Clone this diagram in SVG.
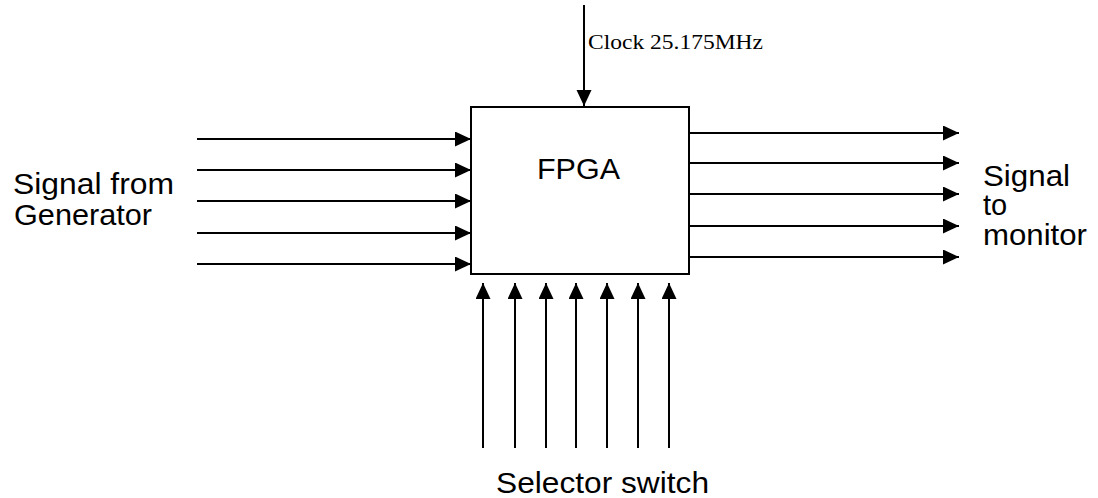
<svg xmlns="http://www.w3.org/2000/svg" width="1098" height="498" viewBox="0 0 1098 498">
  <style>
    .ln { stroke: #000; stroke-width: 2; fill: none; }
    .lbl { font-family: "Liberation Sans", Arial, sans-serif; font-size: 29px; fill: #000; }
    .clk { font-family: "Liberation Serif", "Times New Roman", serif; font-size: 22px; fill: #000; }
  </style>
  <defs>
    <marker id="ah" markerUnits="userSpaceOnUse" markerWidth="17" markerHeight="16" refX="16" refY="7.5" orient="auto">
      <path d="M0,0 L16,7.5 L0,15 z" fill="#000"/>
    </marker>
  </defs>
  <rect width="1098" height="498" fill="#fff"/>

  <g id="fpga">
    <rect x="471" y="107" width="218" height="167" fill="#fff" stroke="#000" stroke-width="2"/>
    <text class="lbl" x="537" y="179" textLength="83" lengthAdjust="spacingAndGlyphs">FPGA</text>
  </g>

  <g id="generator">
    <text class="lbl" x="13" y="194" textLength="161" lengthAdjust="spacingAndGlyphs">Signal from</text>
    <text class="lbl" x="14" y="225" textLength="138" lengthAdjust="spacingAndGlyphs">Generator</text>
  </g>

  <g id="monitor">
    <text class="lbl" x="983" y="186" textLength="87" lengthAdjust="spacingAndGlyphs">Signal</text>
    <text class="lbl" x="983" y="215">to</text>
    <text class="lbl" x="983" y="245" textLength="104" lengthAdjust="spacingAndGlyphs">monitor</text>
  </g>

  <g id="selector">
    <text class="lbl" x="496" y="493" textLength="213" lengthAdjust="spacingAndGlyphs">Selector switch</text>
  </g>

  <g id="clock">
    <text class="clk" x="588" y="49" textLength="175" lengthAdjust="spacingAndGlyphs">Clock 25.175MHz</text>
  </g>

  <g id="connectors">
    <line class="ln" x1="584" y1="5" x2="584" y2="106" marker-end="url(#ah)"/>
    <line class="ln" x1="197" y1="139" x2="471" y2="139" marker-end="url(#ah)"/>
    <line class="ln" x1="197" y1="170" x2="471" y2="170" marker-end="url(#ah)"/>
    <line class="ln" x1="197" y1="201" x2="471" y2="201" marker-end="url(#ah)"/>
    <line class="ln" x1="197" y1="233" x2="471" y2="233" marker-end="url(#ah)"/>
    <line class="ln" x1="197" y1="264" x2="471" y2="264" marker-end="url(#ah)"/>
    <line class="ln" x1="689" y1="133" x2="959" y2="133" marker-end="url(#ah)"/>
    <line class="ln" x1="689" y1="163" x2="959" y2="163" marker-end="url(#ah)"/>
    <line class="ln" x1="689" y1="194" x2="959" y2="194" marker-end="url(#ah)"/>
    <line class="ln" x1="689" y1="226" x2="959" y2="226" marker-end="url(#ah)"/>
    <line class="ln" x1="689" y1="257" x2="959" y2="257" marker-end="url(#ah)"/>
    <line class="ln" x1="483" y1="448" x2="483" y2="283" marker-end="url(#ah)"/>
    <line class="ln" x1="515" y1="448" x2="515" y2="283" marker-end="url(#ah)"/>
    <line class="ln" x1="546" y1="448" x2="546" y2="283" marker-end="url(#ah)"/>
    <line class="ln" x1="576" y1="448" x2="576" y2="283" marker-end="url(#ah)"/>
    <line class="ln" x1="607" y1="448" x2="607" y2="283" marker-end="url(#ah)"/>
    <line class="ln" x1="638" y1="448" x2="638" y2="283" marker-end="url(#ah)"/>
    <line class="ln" x1="669" y1="448" x2="669" y2="283" marker-end="url(#ah)"/>
  </g>
</svg>
